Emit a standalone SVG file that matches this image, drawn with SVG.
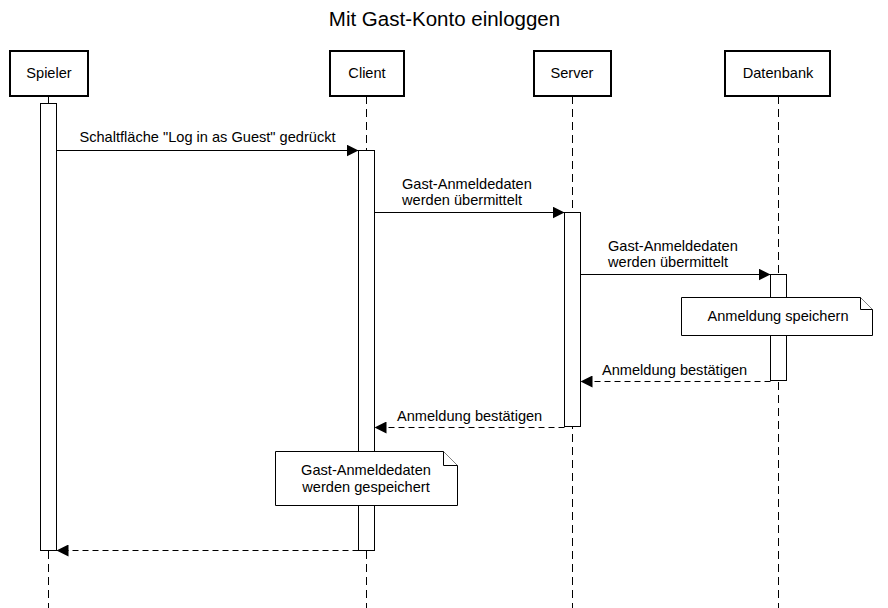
<svg xmlns="http://www.w3.org/2000/svg" width="888" height="608" viewBox="0 0 888 608">
<defs>
<marker id="ah" viewBox="0 0 12 12" refX="12" refY="6" markerWidth="12" markerHeight="12" markerUnits="userSpaceOnUse" orient="auto">
<path d="M0,0 L12,6 L0,12 Z" fill="#000"/>
</marker>
</defs>
<style>
text{font-family:"Liberation Sans",Arial,sans-serif;font-size:14.6px;fill:#000}
.title{font-size:20.5px}
.head{fill:#fff;stroke:#000;stroke-width:2}
.life{stroke:#000;stroke-width:1;stroke-dasharray:8,5;fill:none}
.act{fill:#fff;stroke:#000;stroke-width:1}
.msg{stroke:#000;stroke-width:1;fill:none;marker-end:url(#ah)}
.ret{stroke:#000;stroke-width:1;fill:none;stroke-dasharray:6,4;marker-end:url(#ah)}
.note{fill:#fff;stroke:#000;stroke-width:1}
</style>
<rect width="888" height="608" fill="#fff"/>
<text class="title" x="444.5" y="26" text-anchor="middle">Mit Gast-Konto einloggen</text>

<g id="lifelines">
<line class="life" x1="48.5" y1="96" x2="48.5" y2="608"/>
<line class="life" x1="366.5" y1="96" x2="366.5" y2="608"/>
<line class="life" x1="572.5" y1="96" x2="572.5" y2="608"/>
<line class="life" x1="778.5" y1="96" x2="778.5" y2="608"/>
</g>

<g id="spieler">
<rect class="head" x="10" y="51" width="78" height="45"/>
<text x="49" y="78" text-anchor="middle">Spieler</text>
<rect class="act" x="40.5" y="103.5" width="16" height="447"/>
</g>
<g id="client">
<rect class="head" x="330" y="51" width="74" height="45"/>
<text x="367" y="78" text-anchor="middle">Client</text>
<rect class="act" x="358.5" y="150.5" width="16" height="400"/>
</g>
<g id="server">
<rect class="head" x="534" y="51" width="77" height="45"/>
<text x="572" y="78" text-anchor="middle">Server</text>
<rect class="act" x="564.5" y="212.5" width="16" height="214"/>
</g>
<g id="datenbank">
<rect class="head" x="725" y="51" width="105" height="45"/>
<text x="778" y="78" text-anchor="middle">Datenbank</text>
<rect class="act" x="770.5" y="274.5" width="16" height="106"/>
</g>

<g id="note-speichern">
<path class="note" d="M681.5,297.5 H860.5 L872.5,309.5 V335.5 H681.5 Z"/>
<path class="note" d="M860.5,297.5 V309.5 H872.5" fill="none"/>
<text x="778" y="321" text-anchor="middle">Anmeldung speichern</text>
</g>
<g id="note-gespeichert">
<path class="note" d="M275.5,451.5 H443.5 L457.5,465.5 V505.5 H275.5 Z"/>
<path class="note" d="M443.5,451.5 V465.5 H457.5" fill="none"/>
<text x="366" y="475" text-anchor="middle">Gast-Anmeldedaten</text>
<text x="366" y="492" text-anchor="middle">werden gespeichert</text>
</g>

<g id="connectors">
<line class="msg" x1="56.5" y1="150.5" x2="358.5" y2="150.5"/>
<text x="207.5" y="142" text-anchor="middle">Schaltfläche "Log in as Guest" gedrückt</text>
<line class="msg" x1="374.5" y1="212.5" x2="564.5" y2="212.5"/>
<text x="402" y="189">Gast-Anmeldedaten</text>
<text x="402" y="205">werden übermittelt</text>
<line class="msg" x1="580.5" y1="274.5" x2="770.5" y2="274.5"/>
<text x="608" y="251">Gast-Anmeldedaten</text>
<text x="608" y="267">werden übermittelt</text>
<line class="ret" x1="770.5" y1="381.5" x2="580.5" y2="381.5"/>
<text x="602" y="375">Anmeldung bestätigen</text>
<line class="ret" x1="564.5" y1="427.5" x2="374.5" y2="427.5"/>
<text x="397" y="421">Anmeldung bestätigen</text>
<line class="ret" x1="358.5" y1="550.5" x2="56.5" y2="550.5"/>
</g>
</svg>
